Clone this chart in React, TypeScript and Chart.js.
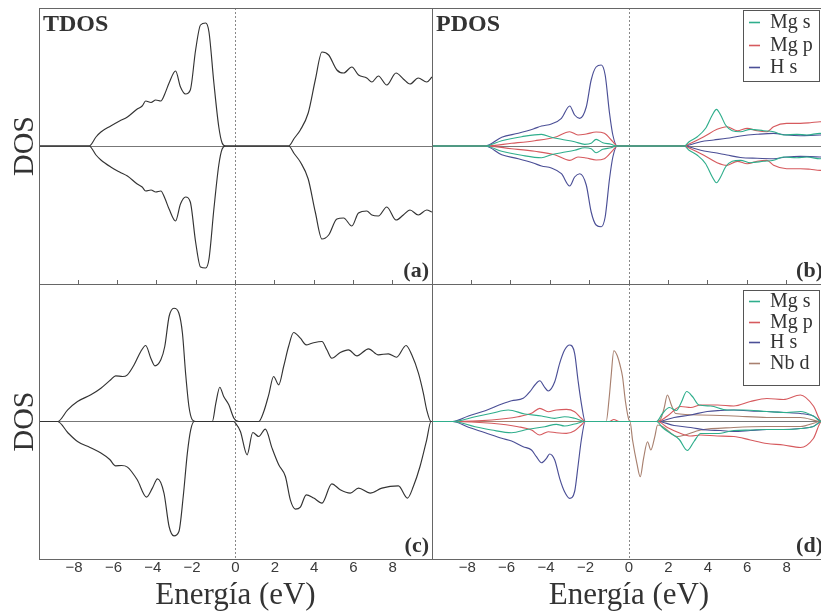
import React, { useEffect, useRef } from 'react';
import { Chart, registerables } from 'chart.js';

Chart.register(...registerables);

type Pt = [number, number];

// ---------- tick / label data ----------
const energyTicks = [-8, -6, -4, -2, 0, 2, 4, 6, 8];
const xTitle = 'Energía (eV)';
const yTitle = 'DOS';
const legendB = ['Mg s', 'Mg p', 'H s'];
const legendD = ['Mg s', 'Mg p', 'H s', 'Nb d'];

// ---------- (a) TDOS MgH2 ----------
const tdosA_up: Pt[] = [
  [-10, 0], [-7.45, 0], [-7.1, 9], [-6.85, 14], [-6.35, 20], [-5.9, 25], [-5.5, 29], [-5.0, 37], [-4.75, 40],
  [-4.57, 45], [-4.3, 43.5], [-4.06, 46], [-3.8, 45], [-3.6, 52], [-3.38, 63], [-3.05, 75], [-2.8, 59],
  [-2.54, 52], [-2.3, 56], [-2.03, 96], [-1.78, 121], [-1.52, 123], [-1.35, 114], [-1.1, 63], [-0.85, 19],
  [-0.68, 3], [-0.5, 0], [2.7, 0], [3.0, 8], [3.3, 16], [3.7, 33], [4.06, 66], [4.4, 94], [4.74, 91],
  [5.16, 76], [5.5, 73], [5.92, 79], [6.26, 71], [6.68, 68], [6.94, 64], [7.27, 70], [7.7, 61], [8.17, 73],
  [8.54, 67], [8.88, 62], [9.3, 68], [9.73, 64], [10, 69],
];
const tdosA_down: Pt[] = [
  [-10, 0], [-7.45, 0], [-7.1, -9], [-6.85, -14], [-6.35, -21], [-5.9, -26], [-5.5, -30], [-5.0, -38], [-4.75, -41],
  [-4.57, -45], [-4.3, -44], [-4.06, -46], [-3.8, -45], [-3.6, -52], [-3.38, -63], [-3.05, -75], [-2.8, -58],
  [-2.54, -51], [-2.3, -56], [-2.03, -96], [-1.78, -121], [-1.52, -122], [-1.35, -113], [-1.1, -63], [-0.85, -19],
  [-0.68, -3], [-0.5, 0], [2.7, 0], [3.0, -8], [3.3, -16], [3.7, -33], [4.06, -66], [4.4, -93], [4.74, -89],
  [5.16, -73], [5.5, -72], [5.92, -80], [6.26, -67], [6.68, -65], [6.94, -69], [7.27, -70], [7.7, -61], [8.17, -74],
  [8.54, -69], [8.88, -64], [9.3, -69], [9.73, -64], [10, -66],
];

// ---------- (b) PDOS MgH2 ----------
const mgS_b_up: Pt[] = [
  [-10, 0], [-7.3, 0], [-6.46, 5.3], [-5.45, 9.3], [-4.44, 11.7], [-3.94, 8.7], [-3.43, 6.7], [-2.76, 4.3],
  [-2.25, 1.7], [-1.92, 2.7], [-1.67, 6.7], [-1.33, 3.3], [-0.91, 1.7], [-0.66, 0], [2.8, 0], [3.05, 4.3],
  [3.47, 9.3], [3.89, 17.7], [4.23, 31], [4.44, 36.7], [4.65, 31], [4.9, 21], [5.24, 15.3], [5.66, 14.3],
  [6.16, 16.7], [6.83, 15.3], [7.34, 14.3], [7.84, 11], [8.52, 11.7], [9.03, 11], [9.7, 12.7], [10, 12],
];
const mgS_b_down: Pt[] = [
  [-10, 0], [-7.3, 0], [-6.46, -5.3], [-5.45, -9.3], [-4.44, -11.7], [-3.94, -8.7], [-3.43, -6.7], [-2.76, -4.3],
  [-2.25, -1.7], [-1.92, -2.7], [-1.67, -6.7], [-1.33, -3.3], [-0.91, -1.7], [-0.66, 0], [2.8, 0], [3.05, -4.3],
  [3.47, -9.3], [3.89, -17.7], [4.23, -31], [4.44, -36.7], [4.65, -31], [4.9, -21], [5.24, -15.3], [5.66, -14.3],
  [6.16, -16.7], [6.83, -15.3], [7.34, -14.3], [7.84, -11], [8.52, -11.7], [9.03, -11], [9.7, -12.7], [10, -12],
];
const mgP_b_up: Pt[] = [
  [-10, 0], [-7.3, 0], [-5.96, 2.7], [-4.78, 5.3], [-3.77, 8.7], [-3.01, 14.3], [-2.59, 11], [-2.17, 12],
  [-1.67, 14], [-1.25, 12.7], [-0.82, 4.3], [-0.6, 0], [2.8, 0], [3.05, 2], [3.8, 9.3], [4.47, 16.7],
  [4.97, 19.3], [5.5, 15.3], [6.0, 17.7], [6.5, 15.3], [7.0, 14.3], [7.34, 19.3], [8.0, 22.7], [8.7, 22.7],
  [9.2, 23.3], [9.7, 24.3], [10, 24],
];
const mgP_b_down: Pt[] = [
  [-10, 0], [-7.3, 0], [-5.96, -2.7], [-4.78, -5.3], [-3.77, -8.7], [-3.01, -14.3], [-2.59, -11], [-2.17, -12],
  [-1.67, -14], [-1.25, -12.7], [-0.82, -4.3], [-0.6, 0], [2.8, 0], [3.05, -2], [3.8, -9.3], [4.47, -16.7],
  [4.97, -19.3], [5.5, -15.3], [6.0, -17.7], [6.5, -15.3], [7.0, -14.3], [7.34, -19.3], [8.0, -22.7], [8.7, -22.7],
  [9.2, -23.3], [9.7, -24.3], [10, -24],
];
const hS_b_up: Pt[] = [
  [-10, 0], [-7.3, 0], [-6.46, 8.7], [-5.62, 12.7], [-4.86, 17], [-4.44, 20], [-3.94, 22], [-3.43, 27.7],
  [-3.01, 40], [-2.76, 31], [-2.5, 27.7], [-2.17, 39], [-1.92, 66], [-1.67, 79], [-1.41, 81], [-1.21, 71],
  [-0.99, 33], [-0.82, 11], [-0.6, 0], [2.8, 0], [3.05, 1], [3.64, 4.3], [4.3, 6], [4.97, 7.7], [5.66, 10],
  [6.5, 11.7], [7.34, 12.7], [8.0, 11], [8.7, 10.3], [9.7, 11], [10, 11],
];
const hS_b_down: Pt[] = [
  [-10, 0], [-7.3, 0], [-6.46, -8.7], [-5.62, -12.7], [-4.86, -17], [-4.44, -20], [-3.94, -22], [-3.43, -27.7],
  [-3.01, -40], [-2.76, -31], [-2.5, -27.7], [-2.17, -39], [-1.92, -66], [-1.67, -79], [-1.41, -80.7], [-1.21, -71],
  [-0.99, -33], [-0.82, -11], [-0.6, 0], [2.8, 0], [3.05, -1], [3.64, -4.3], [4.3, -6.5], [4.97, -9], [5.66, -11.5],
  [6.5, -12.3], [7.34, -12.7], [8.0, -11], [8.7, -10.3], [9.7, -11], [10, -11],
];

// ---------- (c) TDOS Nb-doped ----------
const tdosC_up: Pt[] = [
  [-10, 0], [-9.05, 0], [-8.54, 11.7], [-8.04, 20], [-7.36, 26.7], [-6.85, 33.3], [-6.35, 41.7], [-6.1, 45.7],
  [-5.75, 45], [-5.5, 46.7], [-5.16, 56.7], [-4.82, 70], [-4.57, 76], [-4.31, 63.3], [-4.1, 55.7], [-3.8, 61.7],
  [-3.6, 75], [-3.38, 105], [-3.13, 113.3], [-2.88, 108.3], [-2.7, 88.3], [-2.54, 48.3], [-2.37, 15], [-2.2, 1.7],
  [-2.03, 0], [-1.18, 0], [-1.0, 18.3], [-0.8, 34.3], [-0.6, 25], [-0.34, 16.7], [-0.08, 3.3], [0.17, 0],
  [1.18, 0], [1.44, 10], [1.69, 26.7], [1.94, 45], [2.2, 36.7], [2.45, 55], [2.7, 75], [2.96, 89], [3.3, 83.3],
  [3.6, 76.7], [3.89, 78.3], [4.4, 80], [4.65, 71.7], [4.9, 63.3], [5.33, 69], [5.75, 71.7], [6.18, 65.7],
  [6.77, 72.7], [7.27, 66.7], [7.78, 67.7], [8.2, 64.3], [8.68, 76], [8.97, 66.7], [9.31, 48.3], [9.56, 28.3],
  [9.73, 11.7], [9.95, 0], [10, 0],
];
const tdosC_down: Pt[] = [
  [-10, 0], [-9.05, 0], [-8.54, -11], [-8.04, -20], [-7.4, -26], [-6.85, -31.6], [-6.4, -38], [-6.1, -44.3],
  [-5.8, -44], [-5.5, -45.6], [-5.0, -58.3], [-4.53, -75.6], [-4.23, -66.6], [-3.97, -57.3], [-3.64, -71.6],
  [-3.38, -105], [-3.13, -114.3], [-2.88, -110], [-2.66, -75], [-2.45, -31.6], [-2.28, -8.3], [-2.1, 0],
  [-0.1, 0], [0, -1.6], [0.25, -10], [0.59, -33.3], [0.88, -11], [1.18, -15], [1.52, -7.6], [1.86, -26.6],
  [2.2, -43.3], [2.54, -55], [2.79, -78.3], [3.05, -87.6], [3.3, -85.6], [3.6, -73.3], [3.98, -76.6],
  [4.4, -81.6], [4.9, -62.3], [5.33, -68.3], [5.84, -71.6], [6.26, -66.6], [6.85, -71.6], [7.45, -66.6],
  [8.29, -64.3], [8.75, -76.6], [9.05, -65], [9.39, -45], [9.73, -18.3], [9.95, 0], [10, 0],
];

// ---------- (d) PDOS Nb-doped ----------
const mgS_d_up: Pt[] = [
  [-10, 0], [-8.95, 0], [-7.81, 4.8], [-6.97, 8.2], [-6.13, 11.5], [-5.29, 7.5], [-4.44, 5.5], [-3.77, 3.2],
  [-3.27, 4.8], [-2.76, 3.2], [-2.22, 0], [1.4, 0], [1.7, 8], [2.05, 14], [2.4, 11], [2.65, 19], [2.93, 30],
  [3.22, 25], [3.55, 16.5], [4.14, 15.5], [4.98, 11.5], [5.82, 11.5], [7.0, 10], [8.0, 9], [8.7, 10],
  [9.36, 5.5], [9.78, 0], [10, 0],
];
const mgS_d_down: Pt[] = [
  [-10, 0], [-8.95, 0], [-7.81, -5.2], [-6.97, -8.5], [-5.96, -11.2], [-5.12, -7.8], [-4.28, -5.2], [-3.69, -2.8],
  [-3.27, -4.5], [-2.76, -2.5], [-2.22, 0], [1.4, 0], [1.7, -6], [2.12, -12], [2.55, -18], [2.96, -29],
  [3.3, -20], [3.64, -12], [4.48, -12], [5.32, -9], [6.16, -8.5], [7.0, -8], [8.0, -8], [8.7, -7], [9.36, -5],
  [9.78, 0], [10, 0],
];
const mgP_d_up: Pt[] = [
  [-10, 0], [-8.95, 0], [-6.97, 1.5], [-5.63, 4.8], [-4.95, 8.2], [-4.53, 13.2], [-4.1, 9.8], [-3.69, 11.5],
  [-3.18, 12.2], [-2.76, 9.8], [-2.42, 3.2], [-2.22, 0], [-1.0, 0], [-0.77, 2], [-0.5, 0], [1.45, 0],
  [1.95, 5.5], [2.63, 15], [3.13, 14], [3.64, 16.5], [4.48, 16.5], [5.32, 15.5], [6.16, 20], [7.0, 23],
  [7.84, 22], [8.7, 26.5], [9.36, 15.5], [9.78, 0], [10, 0],
];
const mgP_d_down: Pt[] = [
  [-10, 0], [-8.95, 0], [-6.97, -1.8], [-5.63, -5.2], [-4.95, -8.5], [-4.53, -13.5], [-4.1, -10.2], [-3.69, -11.2],
  [-3.18, -11.8], [-2.76, -9.2], [-2.42, -3.5], [-2.22, 0], [1.45, 0], [1.95, -6], [2.63, -12], [3.13, -14.5],
  [3.64, -13.5], [4.48, -14.5], [5.32, -15], [6.16, -18.5], [7.0, -22], [7.84, -23.5], [8.7, -26], [9.36, -17],
  [9.78, 0], [10, 0],
];
const hS_d_up: Pt[] = [
  [-10, 0], [-8.95, 0], [-8.15, 5.5], [-7.3, 10.8], [-6.46, 17.5], [-5.96, 20.8], [-5.37, 23.2], [-5.03, 29.8],
  [-4.78, 36.5], [-4.53, 40.8], [-4.28, 34.2], [-4.1, 30.5], [-3.77, 39.8], [-3.52, 58.2], [-3.27, 71.5],
  [-3.01, 76.5], [-2.76, 68.2], [-2.59, 41.5], [-2.42, 18.2], [-2.22, 0], [1.45, 0], [2.29, 4], [3.13, 6.5],
  [3.97, 10], [4.65, 11], [5.32, 11.5], [6.16, 10.5], [7.0, 10], [7.84, 9], [8.7, 8], [9.36, 5.5], [9.78, 0], [10, 0],
];
const hS_d_down: Pt[] = [
  [-10, 0], [-8.95, 0], [-8.15, -5.8], [-7.3, -11.2], [-6.46, -16.8], [-5.96, -19.5], [-5.37, -25.2], [-4.95, -28.5],
  [-4.7, -35.2], [-4.44, -41.2], [-4.19, -36.8], [-4.03, -32.5], [-3.77, -38.5], [-3.52, -56.8], [-3.27, -70.2],
  [-3.01, -76.8], [-2.76, -70], [-2.59, -45], [-2.42, -18.5], [-2.22, 0], [1.45, 0], [2.29, -4], [3.13, -6],
  [3.97, -8.5], [4.65, -9], [5.32, -10], [6.16, -9], [7.0, -8], [7.84, -8], [8.7, -7], [9.36, -5], [9.78, 0], [10, 0],
];
const nbD_d_up: Pt[] = [
  [-10, 0], [-1.16, 0], [-1.0, 25], [-0.91, 44.8], [-0.77, 70.8], [-0.6, 66], [-0.45, 56], [-0.33, 45],
  [-0.18, 20], [0, 1.5], [0.1, 0], [1.45, 0], [1.62, 3], [1.78, 13], [1.95, 26.5], [2.15, 16.5], [2.37, 8],
  [3.64, 6.5], [5.32, 5.5], [7.0, 4], [8.7, 4], [9.78, 0], [10, 0],
];
const nbD_d_down: Pt[] = [
  [-10, 0], [0.05, 0], [0.18, -18.5], [0.4, -41.8], [0.57, -55.2], [0.74, -36.8], [0.94, -20.2], [1.11, -28.5],
  [1.31, -15.2], [1.45, -3.5], [1.7, -5], [2.46, -15], [3.64, -8.5], [5.32, -6], [7.0, -5], [8.7, -5],
  [9.78, 0], [10, 0],
];

// ---------- styling ----------
const C_TDOS = '#333333';
const C_MGS = '#2fae8c';
const C_MGP = '#d65a5e';
const C_HS = '#4b4f96';
const C_NBD = '#a8806f';
const SERIF = '"Liberation Serif", "Times New Roman", serif';
const SANS = '"Liberation Sans", Arial, sans-serif';
const TEXT = '#333333';

function line(label: string, pts: Pt[], color: string) {
  return {
    label,
    data: pts.map(([x, y]) => ({ x, y })),
    borderColor: color,
    backgroundColor: color,
    borderWidth: 1.15,
    pointRadius: 0,
    fill: false,
    cubicInterpolationMode: 'monotone' as const,
  };
}

const fmtTick = (v: number | string) => {
  const n = Number(v);
  if (n <= -10 || n >= 10) return '';
  return n < 0 ? '\u2212' + Math.abs(n) + '\u2007' : String(n);
};

type LegendSpec = { labels: string[]; colors: string[]; top: number; height: number; first: number; row: number };
type DecorSpec = { title: string; tag: string; ticks: boolean; legend?: LegendSpec };

function makeDecor(o: DecorSpec) {
  return {
    id: 'decor',
    beforeDatasetsDraw(chart: any) {
      const { ctx, chartArea: a, scales } = chart;
      const x0 = Math.floor(scales.x.getPixelForValue(0)) + 0.5;
      const y0 = Math.floor(scales.y.getPixelForValue(0)) + 0.5;
      ctx.save();
      ctx.strokeStyle = '#777';
      ctx.lineWidth = 1;
      ctx.beginPath();
      ctx.moveTo(a.left, y0);
      ctx.lineTo(a.right, y0);
      ctx.stroke();
      ctx.setLineDash([2, 2]);
      ctx.strokeStyle = '#888';
      ctx.beginPath();
      ctx.moveTo(x0, a.top);
      ctx.lineTo(x0, a.bottom);
      ctx.stroke();
      ctx.restore();
    },
    afterDatasetsDraw(chart: any) {
      const { ctx, chartArea: a, scales } = chart;
      ctx.save();
      ctx.strokeStyle = '#666';
      ctx.lineWidth = 1;
      ctx.strokeRect(a.left + 0.5, a.top + 0.5, a.right - a.left, a.bottom - a.top);
      if (o.ticks) {
        ctx.beginPath();
        for (const t of energyTicks) {
          const x = Math.floor(scales.x.getPixelForValue(t)) + 0.5;
          ctx.moveTo(x, a.bottom);
          ctx.lineTo(x, a.bottom - 4);
        }
        ctx.stroke();
      }
      ctx.fillStyle = TEXT;
      ctx.textBaseline = 'alphabetic';
      ctx.font = `bold 24px ${SERIF}`;
      ctx.textAlign = 'left';
      if (o.title) ctx.fillText(o.title, a.left + 4, a.top + 23);
      ctx.font = `bold 22px ${SERIF}`;
      ctx.textAlign = 'right';
      ctx.fillText(o.tag, a.right - 3, a.bottom - 7);
      if (o.legend) {
        const L = o.legend;
        const bx = a.right - 83;
        const by = a.top + L.top;
        ctx.fillStyle = '#fff';
        ctx.fillRect(bx, by, 76, L.height);
        ctx.strokeStyle = '#555';
        ctx.strokeRect(bx + 0.5, by + 0.5, 76, L.height);
        ctx.font = `20px ${SERIF}`;
        ctx.textAlign = 'left';
        L.labels.forEach((lab, i) => {
          const base = by + L.first + i * L.row;
          ctx.strokeStyle = L.colors[i];
          ctx.lineWidth = 1.6;
          ctx.beginPath();
          ctx.moveTo(bx + 6, Math.round(base - 6) + 0.5);
          ctx.lineTo(bx + 17, Math.round(base - 6) + 0.5);
          ctx.stroke();
          ctx.fillStyle = TEXT;
          ctx.fillText(lab, bx + 27, base);
        });
      }
      ctx.restore();
    },
  };
}

function yAxis(showTitle: boolean, half: number) {
  if (!showTitle) return { type: 'linear' as const, min: -half, max: half, display: false };
  return {
    type: 'linear' as const,
    min: -half,
    max: half,
    display: true,
    grid: { display: false, drawTicks: false },
    border: { display: false },
    ticks: { display: false },
    title: { display: true, text: yTitle, color: TEXT, font: { family: SERIF, size: 30 }, padding: { top: 7, bottom: 0 } },
    afterFit: (s: any) => { s.width = 39; },
  };
}

function xAxis(showLabels: boolean) {
  if (!showLabels) return { type: 'linear' as const, min: -10, max: 10, display: false };
  return {
    type: 'linear' as const,
    min: -10,
    max: 10,
    display: true,
    grid: { display: false, drawTicks: false },
    border: { display: false },
    ticks: {
      stepSize: 2,
      autoSkip: false,
      maxRotation: 0,
      padding: 0,
      color: '#3a3a3a',
      font: { family: SANS, size: 15 },
      callback: fmtTick,
    },
    title: { display: true, text: xTitle, color: TEXT, font: { family: SERIF, size: 31 }, padding: { top: 0, bottom: -2 } },
    afterFit: (s: any) => { s.height = 53; },
  };
}

type PanelProps = {
  left: number; top: number; width: number; height: number;
  datasets: any[]; padding: any; leftAxis: boolean; bottomAxis: boolean; half: number; decor: DecorSpec;
};

function Panel(p: PanelProps) {
  const ref = useRef<HTMLCanvasElement>(null);
  useEffect(() => {
    const chart = new Chart(ref.current as HTMLCanvasElement, {
      type: 'line',
      data: { datasets: p.datasets },
      options: {
        animation: false,
        responsive: false,
        devicePixelRatio: 1,
        layout: { padding: p.padding },
        plugins: { legend: { display: false }, tooltip: { enabled: false } },
        scales: { x: xAxis(p.bottomAxis), y: yAxis(p.leftAxis, p.half) } as any,
      },
      plugins: [makeDecor(p.decor)],
    } as any);
    return () => chart.destroy();
  }, []);
  return (
    <canvas
      ref={ref}
      width={p.width}
      height={p.height}
      style={{ position: 'absolute', left: p.left, top: p.top, width: p.width, height: p.height }}
    />
  );
}

export default function App() {
  const dsA = [line('TDOS up', tdosA_up, C_TDOS), line('TDOS down', tdosA_down, C_TDOS)];
  const dsB = [
    line('Mg s', mgS_b_up, C_MGS), line('Mg s ↓', mgS_b_down, C_MGS),
    line('Mg p', mgP_b_up, C_MGP), line('Mg p ↓', mgP_b_down, C_MGP),
    line('H s', hS_b_up, C_HS), line('H s ↓', hS_b_down, C_HS),
  ];
  const dsC = [line('TDOS up', tdosC_up, C_TDOS), line('TDOS down', tdosC_down, C_TDOS)];
  const dsD = [
    line('Mg s', mgS_d_up, C_MGS), line('Mg s ↓', mgS_d_down, C_MGS),
    line('Mg p', mgP_d_up, C_MGP), line('Mg p ↓', mgP_d_down, C_MGP),
    line('H s', hS_d_up, C_HS), line('H s ↓', hS_d_down, C_HS),
    line('Nb d', nbD_d_up, C_NBD), line('Nb d ↓', nbD_d_down, C_NBD),
  ];
  return (
    <div style={{ position: 'fixed', left: 0, top: 0, width: 821, height: 612, overflow: 'hidden', background: '#fff' }}>
      <Panel left={0} top={0} width={433} height={285} datasets={dsA}
        padding={{ left: 0, top: 8, right: 1, bottom: 1 }} leftAxis bottomAxis={false} half={138}
        decor={{ title: 'TDOS', tag: '(a)', ticks: true }} />
      <Panel left={432} top={0} width={400} height={285} datasets={dsB}
        padding={{ left: 0, top: 8, right: 6, bottom: 1 }} leftAxis={false} bottomAxis={false} half={138}
        decor={{ title: 'PDOS', tag: '(b)', ticks: true,
          legend: { labels: legendB, colors: [C_MGS, C_MGP, C_HS], top: 2, height: 71, first: 18, row: 22.5 } }} />
      <Panel left={0} top={284} width={433} height={328} datasets={dsC}
        padding={{ left: 0, top: 0, right: 1, bottom: 0 }} leftAxis bottomAxis half={137.5}
        decor={{ title: '', tag: '(c)', ticks: false }} />
      <Panel left={432} top={284} width={400} height={328} datasets={dsD}
        padding={{ left: 0, top: 0, right: 6, bottom: 0 }} leftAxis={false} bottomAxis half={137.5}
        decor={{ title: '', tag: '(d)', ticks: false,
          legend: { labels: legendD, colors: [C_MGS, C_MGP, C_HS, C_NBD], top: 6, height: 95, first: 17, row: 20.5 } }} />
    </div>
  );
}
